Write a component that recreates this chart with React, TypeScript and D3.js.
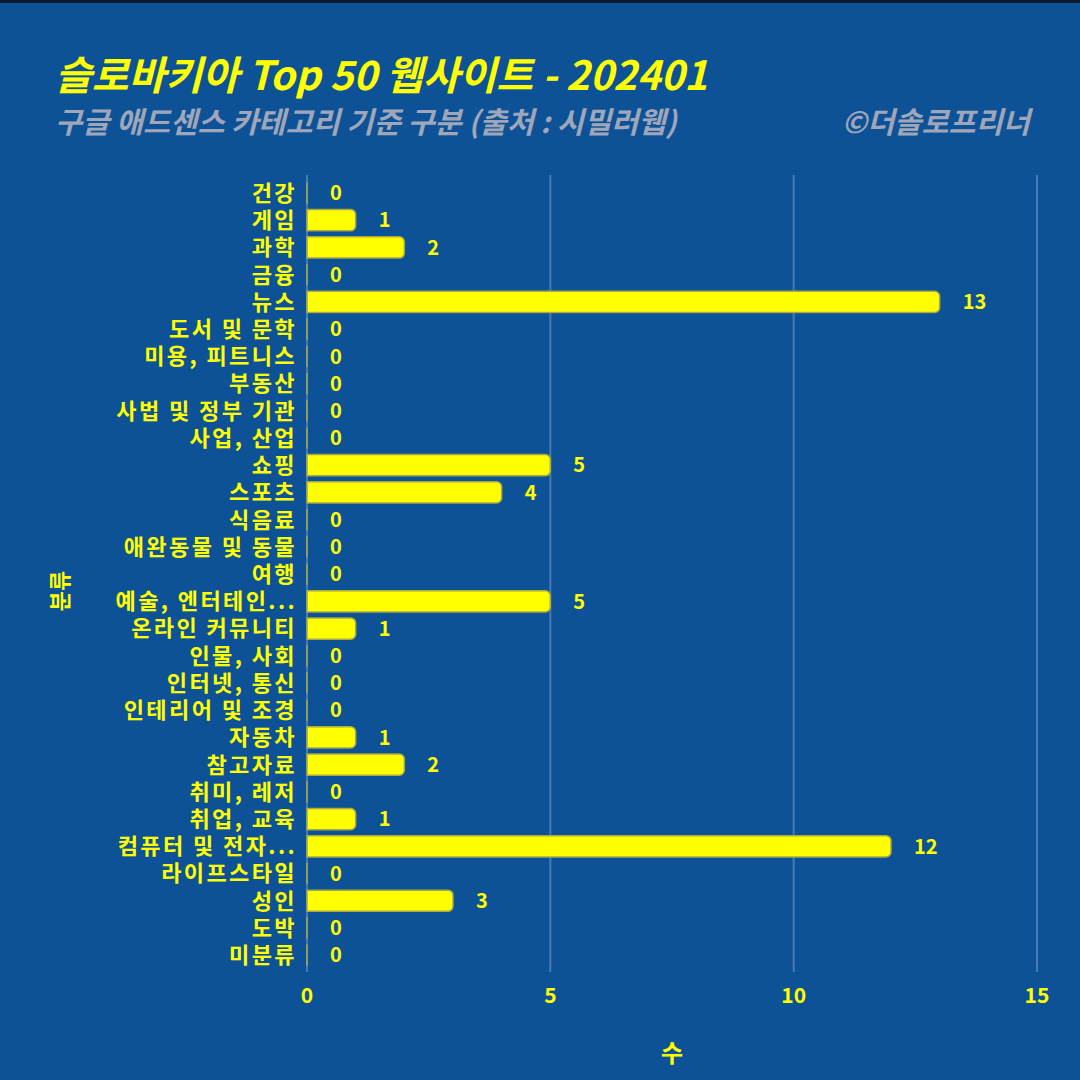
import React from "react";
import * as d3 from "d3";

const categories = [
  "건강", "게임", "과학", "금융", "뉴스", "도서 및 문학", "미용, 피트니스", "부동산",
  "사법 및 정부 기관", "사업, 산업", "쇼핑", "스포츠", "식음료", "애완동물 및 동물", "여행",
  "예술, 엔터테인...", "온라인 커뮤니티", "인물, 사회", "인터넷, 통신", "인테리어 및 조경",
  "자동차", "참고자료", "취미, 레저", "취업, 교육", "컴퓨터 및 전자...", "라이프스타일",
  "성인", "도박", "미분류",
];
const values = [0, 1, 2, 0, 13, 0, 0, 0, 0, 0, 5, 4, 0, 0, 0, 5, 1, 0, 0, 0, 1, 2, 0, 1, 12, 0, 3, 0, 0];
const xTicks = [0, 5, 10, 15];

const title = "슬로바키아 Top 50 웹사이트 - 202401";
const subtitle = "구글 애드센스 카테고리 기준 구분 (출처 : 시밀러웹)";
const credit = "©더솔로프리너";
const xTitle = "수";
const yTitle = "분류";

const W = 1080;
const H = 1080;
const BG = "#0D5296";
const YEL = "#FFFF00";
const FONT = "'Noto Sans CJK KR', 'Noto Sans', sans-serif";

export default function App() {
  const x = d3.scaleLinear().domain([0, 15]).range([307, 1037]);
  const y = d3
    .scaleBand<string>()
    .domain(categories)
    .range([179.4, 968.8])
    .paddingInner(0.22)
    .paddingOuter(0.11);
  const bw = y.bandwidth();
  const r = 5;

  const barPath = (v: number, y0: number) => {
    const x0 = x(0);
    const x1 = x(v);
    const w = x1 - x0;
    const rr = Math.min(r, w / 2, bw / 2);
    const p = d3.path();
    p.moveTo(x0, y0);
    p.lineTo(x1 - rr, y0);
    p.arcTo(x1, y0, x1, y0 + rr, rr);
    p.lineTo(x1, y0 + bw - rr);
    p.arcTo(x1, y0 + bw, x1 - rr, y0 + bw, rr);
    p.lineTo(x0, y0 + bw);
    p.closePath();
    return p.toString();
  };

  return (
    <svg
      width={W}
      height={H}
      style={{ position: "absolute", left: 0, top: 0, display: "block" }}
      fontFamily={FONT}
    >
      <rect x={0} y={0} width={W} height={H} fill={BG} />
      <rect x={0} y={0} width={W} height={3} fill="#0b1a2e" />

      <text x={55} y={90} fill={YEL} fontSize={40} fontWeight={700} fontStyle="italic">
        {title}
      </text>
      <text x={55} y={133} fill="#9fa6ba" fontSize={29.5} fontWeight={700} fontStyle="italic">
        {subtitle}
      </text>
      <text x={1030} y={133} fill="#9fa6ba" fontSize={29.5} fontWeight={700} fontStyle="italic" textAnchor="end">
        {credit}
      </text>

      {/* grid */}
      {xTicks.map((t) => (
        <line
          key={t}
          x1={x(t)}
          x2={x(t)}
          y1={175}
          y2={972}
          stroke="#8fb0d6"
          strokeOpacity={0.45}
          strokeWidth={2}
        />
      ))}

      {/* bars */}
      {categories.map((c, i) => {
        const v = values[i];
        const y0 = y(c)!;
        return (
          <g key={c}>
            {v > 0 ? (
              <path d={barPath(v, y0)} fill={YEL} stroke="#a8a844" strokeWidth={1.5} />
            ) : (
              <line x1={x(0)} x2={x(0)} y1={y0} y2={y0 + bw} stroke="#a8a844" strokeWidth={1.5} />
            )}
            <text
              x={x(v) + 23}
              y={y0 + bw / 2}
              dy="0.36em"
              fill={YEL}
              fontSize={20}
              fontWeight={700}
              textAnchor="start"
            >
              {v}
            </text>
            <text
              x={297}
              y={y0 + bw / 2}
              dy="0.36em"
              fill={YEL}
              fontSize={22}
              fontWeight={700}
              letterSpacing={2.4}
              textAnchor="end"
            >
              {c}
            </text>
          </g>
        );
      })}

      {/* x tick labels */}
      {xTicks.map((t) => (
        <text
          key={"l" + t}
          x={x(t)}
          y={1003}
          fill={YEL}
          fontSize={21}
          fontWeight={700}
          textAnchor="middle"
        >
          {t}
        </text>
      ))}

      <text x={672} y={1062} fill={YEL} fontSize={24} fontWeight={700} textAnchor="middle">
        {xTitle}
      </text>
      <text
        transform="translate(68,591) rotate(-90)"
        fill={YEL}
        fontSize={22}
        fontWeight={700}
        textAnchor="middle"
      >
        {yTitle}
      </text>
    </svg>
  );
}
